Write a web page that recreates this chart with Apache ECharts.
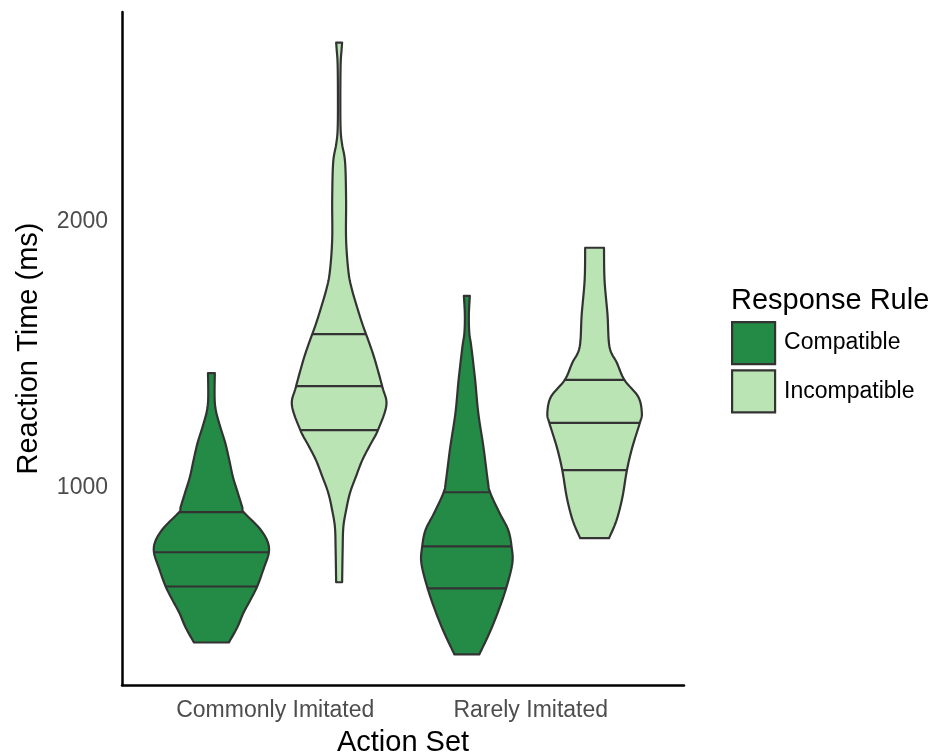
<!DOCTYPE html>
<html><head><meta charset="utf-8">
<script src="https://cdn.jsdelivr.net/npm/echarts@6/dist/echarts.min.js"></script>
<style>html,body{margin:0;padding:0;background:#fff}#c{width:934px;height:756px}</style>
</head><body><div id="c"></div>
<script>
const categories = ['Commonly Imitated', 'Rarely Imitated'];
const groups = ['Compatible', 'Incompatible'];
const yTicks = [1000, 2000];

// Violin outlines: reaction time (ms) and relative density (max = 1)
const commonCompatibleRT = [1430,1366,1317,1279,1226,1166,1102,1038,977,925,906,849,800,755,698,626,574,525,472,415];
const commonCompatibleDensity = [0.06,0.055,0.06,0.087,0.156,0.242,0.311,0.375,0.462,0.536,0.562,0.822,0.969,1.0,0.917,0.796,0.675,0.554,0.45,0.303];
const commonCompatibleQuantiles = [906, 755, 626];

const commonIncompatibleRT = [2675,2649,2592,2460,2347,2291,2223,2083,1932,1808,1743,1679,1619,1577,1536,1479,1377,1309,1215,1158,1102,1038,977,913,849,762,642];
const commonIncompatibleDensity = [0.052,0.043,0.026,0.021,0.026,0.052,0.104,0.121,0.121,0.164,0.225,0.311,0.398,0.467,0.536,0.623,0.753,0.822,0.675,0.536,0.403,0.289,0.187,0.121,0.073,0.061,0.052];
const commonIncompatibleQuantiles = [1577, 1381, 1215];

const rareCompatibleRT = [1721,1649,1581,1528,1404,1279,1151,1026,981,902,838,774,713,619,525,449,370];
const rareCompatibleDensity = [0.052,0.035,0.043,0.078,0.144,0.199,0.289,0.363,0.403,0.571,0.721,0.779,0.791,0.683,0.533,0.389,0.216];
const rareCompatibleQuantiles = [981, 777, 619];

const rareIncompatibleRT = [1902,1781,1649,1528,1468,1404,1340,1279,1242,1151,1064,962,875,808];
const rareIncompatibleDensity = [0.164,0.173,0.225,0.26,0.389,0.519,0.761,0.822,0.787,0.657,0.562,0.484,0.381,0.251];
const rareIncompatibleQuantiles = [1404, 1242, 1064];

const violins = [
  [
    {rt: commonCompatibleRT, d: commonCompatibleDensity, q: commonCompatibleQuantiles},
    {rt: rareCompatibleRT, d: rareCompatibleDensity, q: rareCompatibleQuantiles}
  ],
  [
    {rt: commonIncompatibleRT, d: commonIncompatibleDensity, q: commonIncompatibleQuantiles},
    {rt: rareIncompatibleRT, d: rareIncompatibleDensity, q: rareIncompatibleQuantiles}
  ]
];

const fills = ['#238B45', '#BAE4B3'];
const edge = '#333333';
const dodge = [-0.25, 0.25];
const halfW = 0.225;

function interp(rt, d, v) {
  for (let k = 0; k < rt.length - 1; k++) {
    const a = rt[k], b = rt[k + 1];
    if ((v <= a && v >= b) || (v >= a && v <= b)) {
      const t = (v - a) / (b - a);
      return d[k] + t * (d[k + 1] - d[k]);
    }
  }
  return 0;
}

// Catmull-Rom curve through pixel points (drawing only)
function smoothLine(pts, steps) {
  const out = [];
  const n = pts.length;
  for (let i = 0; i < n - 1; i++) {
    const p0 = pts[Math.max(0, i - 1)], p1 = pts[i], p2 = pts[i + 1], p3 = pts[Math.min(n - 1, i + 2)];
    for (let s = 0; s < steps; s++) {
      const t = s / steps, t2 = t * t, t3 = t2 * t;
      const f = (a, b, c, d) => 0.5 * ((2 * b) + (-a + c) * t + (2 * a - 5 * b + 4 * c - d) * t2 + (-a + 3 * b - 3 * c + d) * t3);
      out.push([f(p0[0], p1[0], p2[0], p3[0]), f(p0[1], p1[1], p2[1], p3[1])]);
    }
  }
  out.push(pts[n - 1]);
  return out;
}

function makeRender(g) {
  return function (params, api) {
    const v = violins[g][params.dataIndex];
    const xc = params.dataIndex + 1 + dodge[g];
    const right = smoothLine(v.rt.map((r, k) => api.coord([xc + halfW * v.d[k], r])), 8);
    const left = smoothLine(v.rt.map((r, k) => api.coord([xc - halfW * v.d[k], r])), 8).reverse();
    const children = [{
      type: 'polygon',
      shape: {points: right.concat(left)},
      style: {fill: fills[g], stroke: edge, lineWidth: 2.2, lineJoin: 'round'}
    }];
    v.q.forEach(q => {
      const dq = interp(v.rt, v.d, q);
      const p1 = api.coord([xc - halfW * dq, q]);
      const p2 = api.coord([xc + halfW * dq, q]);
      children.push({
        type: 'line',
        shape: {x1: p1[0], y1: p1[1], x2: p2[0], y2: p2[1]},
        style: {stroke: edge, lineWidth: 2.2}
      });
    });
    return {type: 'group', children};
  };
}

const chart = echarts.init(document.getElementById('c'));
chart.setOption({
  animation: false,
  backgroundColor: '#fff',
  textStyle: {fontFamily: 'Liberation Sans, Arial, sans-serif'},
  grid: {left: 122, right: 250, top: 12, bottom: 71, containLabel: false, outerBoundsMode: 'none'},
  xAxis: {
    type: 'value', min: 0.4, max: 2.6,
    name: 'Action Set', nameLocation: 'middle', nameGap: 43,
    nameTextStyle: {fontSize: 29, color: '#000'},
    axisLine: {show: true, lineStyle: {color: '#000', width: 2.5}},
    axisTick: {show: false},
    splitLine: {show: false},
    axisLabel: {
      customValues: [1, 2], fontSize: 23, color: '#4D4D4D', margin: 14,
      formatter: v => categories[Math.round(v) - 1] || ''
    }
  },
  yAxis: {
    type: 'value', min: 255, max: 2790,
    name: 'Reaction Time (ms)', nameLocation: 'middle', nameGap: 79,
    nameTextStyle: {fontSize: 29, color: '#000'},
    axisLine: {show: true, lineStyle: {color: '#000', width: 2.5}},
    axisTick: {show: false},
    splitLine: {show: false},
    axisLabel: {customValues: yTicks, fontSize: 23, color: '#4D4D4D', margin: 14, formatter: v => String(v)}
  },
  legend: {
    orient: 'vertical', left: 731, top: 321, padding: 0,
    itemWidth: 43, itemHeight: 42, itemGap: 4,
    textStyle: {fontSize: 23, color: '#000', padding: [0, 0, 0, 4]},
    data: groups.map((gname, g) => ({
      name: gname, icon: 'rect',
      itemStyle: {color: fills[g], borderColor: edge, borderWidth: 2.2}
    }))
  },
  graphic: [{
    type: 'text', left: 731, top: 286,
    style: {text: 'Response Rule', fontSize: 29, fill: '#000', fontFamily: 'Liberation Sans, Arial, sans-serif'}
  }],
  series: groups.map((gname, g) => ({
    type: 'custom', name: gname,
    itemStyle: {color: fills[g], borderColor: edge},
    renderItem: makeRender(g),
    encode: {x: 0, y: 1},
    data: categories.map((c, i) => [i + 1 + dodge[g], violins[g][i].q[1]])
  }))
});
</script>
</body></html>
